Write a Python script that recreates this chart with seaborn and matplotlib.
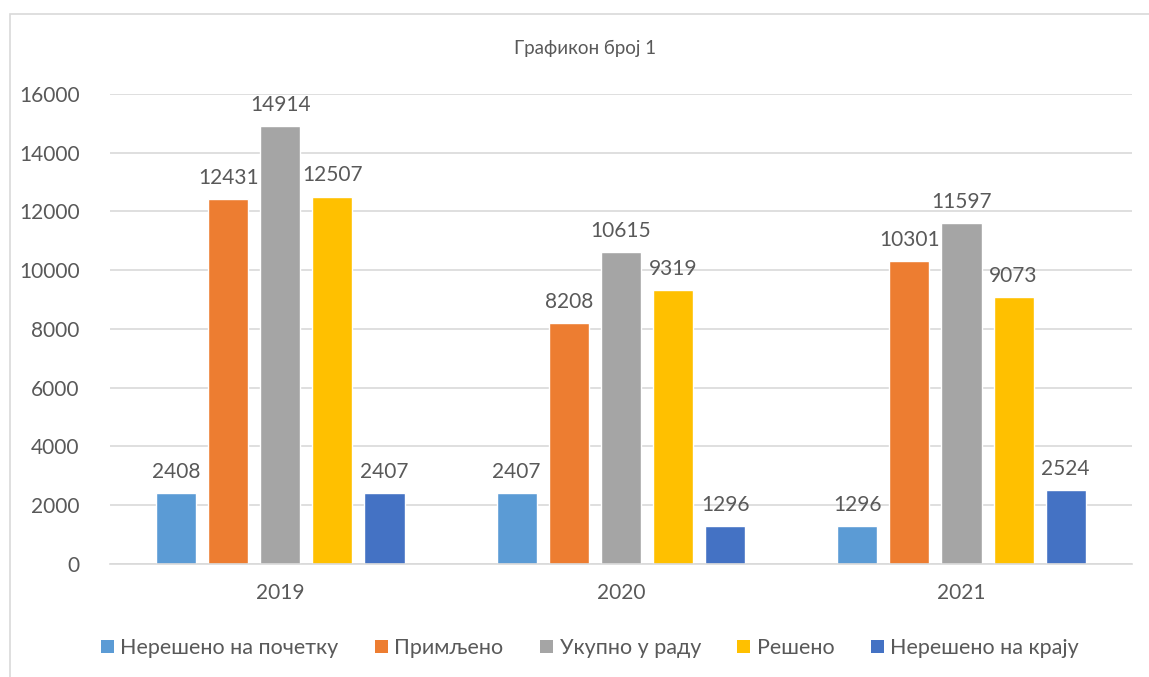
import numpy as np
import pandas as pd
import matplotlib
matplotlib.use("Agg")
import matplotlib.pyplot as plt
from matplotlib.patches import Rectangle, Patch
import seaborn as sns

# podaci sa grafikona
years = ["2019", "2020", "2021"]
series = ["Нерешено на почетку", "Примљено", "Укупно у раду", "Решено", "Нерешено на крају"]
nereseno_pocetak = [2408, 2407, 1296]
primljeno = [12431, 8208, 10301]
ukupno = [14914, 10615, 11597]
reseno = [12507, 9319, 9073]
nereseno_kraj = [2407, 1296, 2524]
colors = ["#5B9BD5", "#ED7D31", "#A5A5A5", "#FFC000", "#4472C4"]

values = [nereseno_pocetak, primljeno, ukupno, reseno, nereseno_kraj]
df = pd.DataFrame(
    [(y, s, v[i]) for s, v in zip(series, values) for i, y in enumerate(years)],
    columns=["year", "series", "value"],
)

sns.set_theme(style="white")
plt.rcParams["font.family"] = ["Lato", "DejaVu Sans"]
text_color = "#595959"

fig = plt.figure(figsize=(11.49, 6.77), dpi=100)
ax = fig.add_axes([0.0957, 0.1669, 0.8893, 0.6943])

sns.barplot(data=df, x="year", y="value", hue="series", hue_order=series,
            palette=colors, width=0.765, gap=0.23, ax=ax, legend=False,
            saturation=1)

for cont in ax.containers:
    ax.bar_label(cont, padding=8, fontsize=15, color=text_color)

ax.set_ylim(0, 16000)
ax.set_yticks(np.arange(0, 16001, 2000))
ax.yaxis.grid(True, color="#D9D9D9", linewidth=1.2)
ax.set_axisbelow(True)
for sp in ["top", "right", "left"]:
    ax.spines[sp].set_visible(False)
ax.spines["bottom"].set_color("#D9D9D9")
ax.spines["bottom"].set_linewidth(1.2)
ax.tick_params(axis="both", length=0, labelsize=15, labelcolor=text_color)
ax.tick_params(axis="x", pad=14)
ax.tick_params(axis="y", pad=22)
ax.set_xlabel("")
ax.set_ylabel("")

fig.text(585 / 1149, 1 - 48 / 677, "Графикон број 1", ha="center", va="center",
         fontsize=13.5, color=text_color)

handles = [Patch(facecolor=c, edgecolor="none") for c in colors]
fig.legend(handles, series, loc="center", bbox_to_anchor=(590 / 1149, 1 - 648 / 677),
           ncol=5, frameon=False, fontsize=15.5, handlelength=0.6, handleheight=0.6,
           handletextpad=0.3, columnspacing=1.7, labelcolor=text_color)

# okvir grafikona
fig.patches.append(Rectangle((10 / 1149, -0.1), 1.2, 1 - 14 / 677 + 0.1,
                             transform=fig.transFigure, fill=False,
                             edgecolor="#D9D9D9", linewidth=1.2))

fig.savefig("out.png", dpi=100)
